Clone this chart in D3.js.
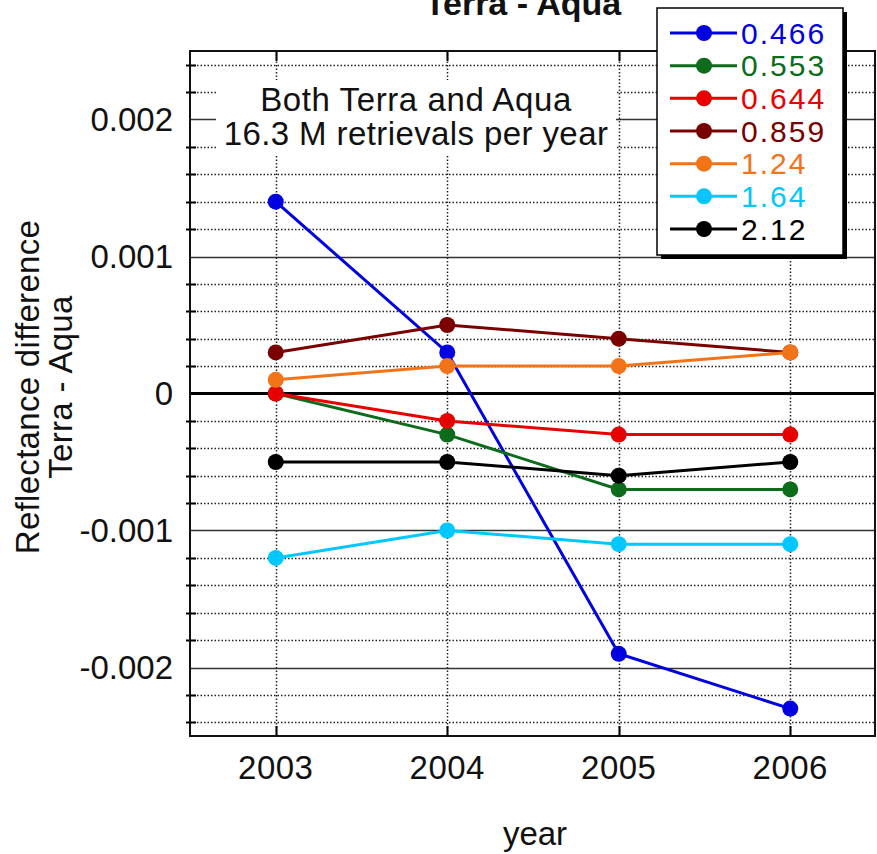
<!DOCTYPE html>
<html>
<head>
<meta charset="utf-8">
<script src="https://cdn.jsdelivr.net/npm/d3@7"></script>
<style>
  body { margin: 0; background: #fff; }
  svg { display: block; font-family: "Liberation Sans", Arial, Helvetica, sans-serif; }
</style>
</head>
<body>
<div id="chart"></div>
<script>
// data
const years = [2003, 2004, 2005, 2006];
const bands = ["0.466", "0.553", "0.644", "0.859", "1.24", "1.64", "2.12"];
const bandColors = ["#0000e0", "#0d6b1c", "#e60000", "#7a0000", "#f27318", "#00c8ff", "#000000"];
const v0466 = [0.0014, 0.0003, -0.0019, -0.0023];
const v0553 = [0.0, -0.0003, -0.0007, -0.0007];
const v0644 = [0.0, -0.0002, -0.0003, -0.0003];
const v0859 = [0.0003, 0.0005, 0.0004, 0.0003];
const v124 = [0.0001, 0.0002, 0.0002, 0.0003];
const v164 = [-0.0012, -0.001, -0.0011, -0.0011];
const v212 = [-0.0005, -0.0005, -0.0006, -0.0005];
const seriesValues = [v0466, v0553, v0644, v0859, v124, v164, v212];
const yMajorTicks = [-0.002, -0.001, 0, 0.001, 0.002];
const yTickLabels = ["-0.002", "-0.001", "0", "0.001", "0.002"];

const width = 877, height = 854;
const margin = { top: 51, right: 1, bottom: 118, left: 190 };

const svg = d3.select("#chart").append("svg").attr("width", width).attr("height", height);

const x = d3.scaleLinear().domain([2002.5, 2006.5]).range([margin.left, width - margin.right]);
const y = d3.scaleLinear().domain([-0.0025, 0.0025]).range([height - margin.bottom, margin.top]);

const x0 = x.range()[0], x1 = x.range()[1];
const yTop = y.range()[1], yBot = y.range()[0];

// minor ticks every 0.0002
const minor = d3.range(-12, 13).map(i => i * 0.0002).filter(v => Math.abs(Math.round(v * 10000) % 10) !== 0);

// dotted minor grid
svg.append("g").selectAll("line").data(minor).join("line")
    .attr("x1", x0).attr("x2", x1)
    .attr("y1", d => Math.round(y(d)) + 0.5).attr("y2", d => Math.round(y(d)) + 0.5)
    .attr("stroke", "#222").attr("stroke-width", 1.5).attr("stroke-dasharray", "1.5,2");

// dotted vertical grid at years
svg.append("g").selectAll("line").data(years).join("line")
    .attr("x1", d => Math.round(x(d)) + 0.5).attr("x2", d => Math.round(x(d)) + 0.5)
    .attr("y1", yTop).attr("y2", yBot)
    .attr("stroke", "#222").attr("stroke-width", 1.5).attr("stroke-dasharray", "1.5,2");

// solid major grid
svg.append("g").selectAll("line").data(yMajorTicks.filter(d => d !== 0)).join("line")
    .attr("x1", x0).attr("x2", x1)
    .attr("y1", d => Math.round(y(d)) + 0.5).attr("y2", d => Math.round(y(d)) + 0.5)
    .attr("stroke", "#333").attr("stroke-width", 1.5);

// minor tick marks on left axis
svg.append("g").selectAll("line").data(minor).join("line")
    .attr("x1", x0 - 4).attr("x2", x0 + 6)
    .attr("y1", d => Math.round(y(d)) + 0.5).attr("y2", d => Math.round(y(d)) + 0.5)
    .attr("stroke", "#000").attr("stroke-width", 2);

// year ticks top and bottom
svg.append("g").selectAll("line").data(years).join("line")
    .attr("x1", d => Math.round(x(d)) + 0.5).attr("x2", d => Math.round(x(d)) + 0.5)
    .attr("y1", yBot - 10).attr("y2", yBot)
    .attr("stroke", "#000").attr("stroke-width", 2);
svg.append("g").selectAll("line").data(years).join("line")
    .attr("x1", d => Math.round(x(d)) + 0.5).attr("x2", d => Math.round(x(d)) + 0.5)
    .attr("y1", yTop).attr("y2", yTop + 10)
    .attr("stroke", "#000").attr("stroke-width", 2);

// annotation with white background
const noteX = 416;
svg.append("rect").attr("x", 216).attr("y", 80).attr("width", 400).attr("height", 76).attr("fill", "#fff");
svg.append("text").attr("x", noteX).attr("y", 111).attr("text-anchor", "middle")
    .attr("font-size", 33).attr("letter-spacing", 0.6).attr("fill", "#111").text("Both Terra and Aqua");
svg.append("text").attr("x", noteX).attr("y", 145).attr("text-anchor", "middle")
    .attr("font-size", 33).attr("letter-spacing", 0.4).attr("fill", "#111").text("16.3 M retrievals per year");

// zero line
svg.append("line").attr("x1", x0).attr("x2", x1)
    .attr("y1", y(0)).attr("y2", y(0))
    .attr("stroke", "#000").attr("stroke-width", 3);

// frame
svg.append("rect").attr("x", x0).attr("y", yTop).attr("width", x1 - x0 - 1).attr("height", yBot - yTop)
    .attr("fill", "none").attr("stroke", "#111").attr("stroke-width", 2);

// y tick labels
svg.append("g").selectAll("text").data(yMajorTicks).join("text")
    .attr("x", 173).attr("y", d => y(d)).attr("dy", "0.36em")
    .attr("text-anchor", "end").attr("font-size", 33).attr("fill", "#111")
    .text((d, i) => yTickLabels[i]);

// x tick labels
svg.append("g").selectAll("text").data(years).join("text")
    .attr("x", d => x(d)).attr("y", 779)
    .attr("text-anchor", "middle").attr("font-size", 33).attr("letter-spacing", 0.5).attr("fill", "#111")
    .text(d => d);

// axis titles
svg.append("text").attr("x", 535).attr("y", 845).attr("text-anchor", "middle")
    .attr("font-size", 33).attr("fill", "#111").text("year");
svg.append("text").attr("transform", "translate(39,387) rotate(-90)").attr("text-anchor", "middle")
    .attr("font-size", 33).attr("letter-spacing", 0.3).attr("fill", "#111").text("Reflectance difference");
svg.append("text").attr("transform", "translate(72,387) rotate(-90)").attr("text-anchor", "middle")
    .attr("font-size", 33).attr("letter-spacing", 0.3).attr("fill", "#111").text("Terra - Aqua");

// title (partly clipped at top)
svg.append("text").attr("x", 523).attr("y", 15).attr("text-anchor", "middle")
    .attr("font-size", 34).attr("font-weight", "bold").attr("fill", "#111").text("Terra - Aqua");

// series
const line = d3.line().x((d, i) => x(years[i])).y(d => y(d));
const seriesG = svg.append("g");
seriesValues.forEach((vals, k) => {
    seriesG.append("path").datum(vals)
        .attr("d", line).attr("fill", "none")
        .attr("stroke", bandColors[k]).attr("stroke-width", 3);
    seriesG.append("g").selectAll("circle").data(vals).join("circle")
        .attr("cx", (d, i) => x(years[i])).attr("cy", d => y(d)).attr("r", 8)
        .attr("fill", bandColors[k]);
});

// legend
const lg = svg.append("g");
lg.append("rect").attr("x", 661).attr("y", 12).attr("width", 186).attr("height", 247).attr("fill", "#000");
lg.append("rect").attr("x", 657).attr("y", 8).attr("width", 186).attr("height", 247)
    .attr("fill", "#fff").attr("stroke", "#000").attr("stroke-width", 1.5);
const legendY = d3.scalePoint().domain(bands).range([33, 229]);
bands.forEach((b, k) => {
    const ly = legendY(b);
    lg.append("line").attr("x1", 670).attr("x2", 737).attr("y1", ly).attr("y2", ly)
        .attr("stroke", bandColors[k]).attr("stroke-width", 3);
    lg.append("circle").attr("cx", 704).attr("cy", ly).attr("r", 8).attr("fill", bandColors[k]);
    lg.append("text").attr("x", 741).attr("y", ly).attr("dy", "0.36em")
        .attr("font-size", 30).attr("letter-spacing", 2).attr("fill", bandColors[k]).text(b);
});
</script>
</body>
</html>
